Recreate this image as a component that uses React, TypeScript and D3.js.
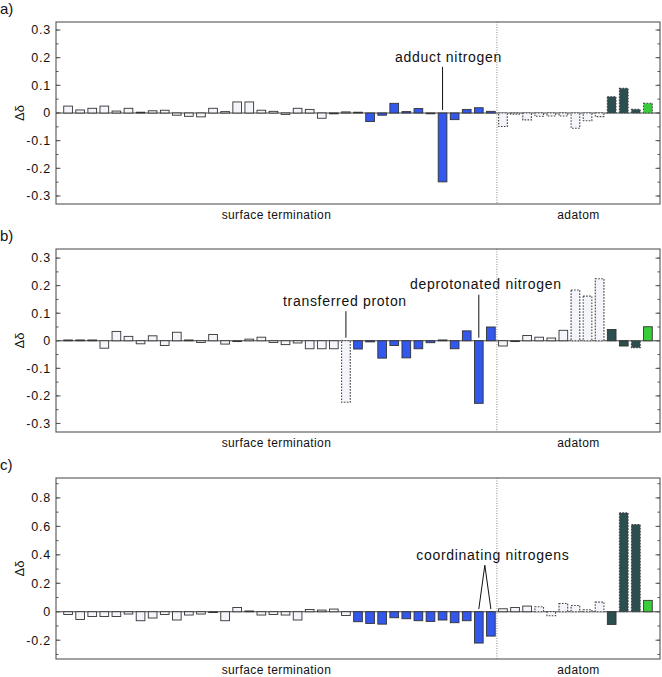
import React from 'react';
import * as d3 from 'd3';

// site kinds: w = surface/adatom white, b = blue, d = dark teal, g = green
const siteKinds: string[] = [
  'w','w','w','w','w','w','w','w','w','w','w','w','w','w','w','w','w','w','w','w','w','w','w','w',
  'b','b','b','b','b','b','b','b','b','b','b','b',
  'w','w','w','w','w','w','w','w','w',
  'd','d','d',
  'g',
];

const valuesA: number[] = [
  0.025, 0.011, 0.017, 0.025, 0.007, 0.017, 0.002, 0.008, 0.01, -0.008, -0.012, -0.014,
  0.017, 0.005, 0.04, 0.04, 0.01, 0.006, -0.005, 0.017, 0.013, -0.019, -0.003, 0.004,
  0, -0.031, -0.008, 0.035, 0.005, 0.016, -0.002, -0.249, -0.024, 0.013, 0.019, 0.006,
  -0.049, -0.004, -0.025, -0.012, -0.011, -0.011, -0.055, -0.028, -0.013,
  0.059, 0.089, 0.013,
  0.035,
];
const valuesB: number[] = [
  0.001, 0.003, 0.001, -0.027, 0.034, 0.016, -0.011, 0.018, -0.017, 0.031, 0.002, -0.006,
  0.023, -0.012, -0.002, 0.006, 0.013, -0.006, -0.014, -0.008, -0.029, -0.029, -0.029, -0.223,
  -0.03, -0.004, -0.063, -0.017, -0.062, -0.029, -0.007, 0.003, -0.029, 0.036, -0.227, 0.05,
  -0.019, -0.002, 0.019, 0.013, 0.01, 0.038, 0.184, 0.162, 0.225,
  0.041, -0.019, -0.025,
  0.051,
];
const valuesC: number[] = [
  -0.019, -0.054, -0.033, -0.033, -0.033, -0.016, -0.063, -0.044, -0.019, -0.058, -0.023, -0.016,
  -0.003, -0.063, 0.03, 0, -0.023, -0.019, -0.023, -0.058, 0.016, 0.012, 0.019, -0.026,
  -0.07, -0.082, -0.087, -0.042, -0.049, -0.063, -0.068, -0.058, -0.077, -0.063, -0.22, -0.171,
  0.021, 0.03, 0.04, 0.035, -0.028, 0.058, 0.044, 0.014, 0.068,
  -0.089, 0.695, 0.613,
  0.08,
];

const dashedA: number[] = [36, 37, 38, 39, 40, 41, 42, 43, 44, 45, 46, 47, 48];
const dashedB: number[] = [23, 42, 43, 44, 47];
const dashedC: number[] = [39, 40, 41, 42, 43, 44, 46, 47];

const ticksAB: number[] = [-0.3, -0.2, -0.1, 0, 0.1, 0.2, 0.3];
const minorAB: number[] = [-0.3, -0.25, -0.2, -0.15, -0.1, -0.05, 0, 0.05, 0.1, 0.15, 0.2, 0.25, 0.3];
const ticksC: number[] = [-0.2, 0, 0.2, 0.4, 0.6, 0.8];
const minorC: number[] = [-0.3, -0.2, -0.1, 0, 0.1, 0.2, 0.3, 0.4, 0.5, 0.6, 0.7, 0.8, 0.9];

const regionLabels: string[] = ['surface termination', 'adatom'];
const panelLabels: string[] = ['a)', 'b)', 'c)'];

const COLORS: Record<string, string> = {
  w: '#f4f5fa',
  b: '#3358ee',
  d: '#2c4e4e',
  g: '#3acc3a',
};

const FONT = "'Liberation Sans', Arial, Helvetica, sans-serif";
const LEFT = 56;
const RIGHT = 660;

interface Annot {
  text: string;
  bars: number[];
  textDx: number;
  textY: number;
  lineTop: number;
  lineBottom: number;
}

interface PanelProps {
  label: string;
  values: number[];
  dashed: number[];
  domain: [number, number];
  ticks: number[];
  minor: number[];
  top: number;
  bottom: number;
  annots: Annot[];
  fmt: (v: number) => string;
}

function Panel({ label, values, dashed, domain, ticks, minor, top, bottom, annots, fmt }: PanelProps) {
  const x = d3.scaleLinear().domain([-1, 49]).range([LEFT, RIGHT]);
  const y = d3.scaleLinear().domain(domain).range([bottom, top]);
  const step = x(1) - x(0);
  const bw = step * 0.72;
  const split = x(35.5);
  const dashSet = new Set(dashed);
  return (
    <g>
      <text x={0} y={top - 8} fontFamily={FONT} fontSize={15} fill="#111">{label}</text>
      <text
        transform={`translate(24,${(top + bottom) / 2}) rotate(-90)`}
        textAnchor="middle"
        fontFamily={FONT}
        fontSize={13}
        fill="#111"
      >Δδ</text>
      {/* zero line */}
      <line x1={LEFT} x2={RIGHT} y1={y(0)} y2={y(0)} stroke="#444" strokeWidth={1} />
      {/* separator */}
      <line x1={split} x2={split} y1={top} y2={bottom} stroke="#888" strokeWidth={1} strokeDasharray="1,1.5" />
      {values.map((v, i) => {
        const y0 = y(Math.max(v, 0));
        const h = Math.max(Math.abs(y(v) - y(0)), 0.8);
        const kind = siteKinds[i];
        const isD = dashSet.has(i);
        return (
          <rect
            key={i}
            x={x(i) - bw / 2}
            y={v >= 0 ? y(0) - h : y(0)}
            width={bw}
            height={h}
            fill={COLORS[kind]}
            stroke={isD ? '#444' : '#333'}
            strokeWidth={isD ? 1.1 : 0.9}
            strokeDasharray={isD ? '1.6,1.4' : undefined}
          />
        );
      })}
      {/* frame */}
      <rect x={LEFT} y={top} width={RIGHT - LEFT} height={bottom - top} fill="none" stroke="#555" strokeWidth={1.1} />
      {minor.map((t, i) => (
        <g key={'m' + i}>
          <line x1={LEFT} x2={LEFT + 2.5} y1={y(t)} y2={y(t)} stroke="#555" strokeWidth={1} />
          <line x1={RIGHT} x2={RIGHT - 2.5} y1={y(t)} y2={y(t)} stroke="#555" strokeWidth={1} />
        </g>
      ))}
      {ticks.map((t, i) => (
        <g key={'t' + i}>
          <line x1={LEFT} x2={LEFT + 4.5} y1={y(t)} y2={y(t)} stroke="#555" strokeWidth={1} />
          <line x1={RIGHT} x2={RIGHT - 4.5} y1={y(t)} y2={y(t)} stroke="#555" strokeWidth={1} />
          <text
            x={51}
            y={y(t)}
            dy="0.35em"
            textAnchor="end"
            fontFamily={FONT}
            fontSize={12.5}
            letterSpacing={0.8}
            fill="#111"
          >{fmt(t)}</text>
        </g>
      ))}
      <text x={(LEFT + split) / 2} y={bottom + 15} textAnchor="middle" fontFamily={FONT} fontSize={12} letterSpacing={0.4} fill="#111">{regionLabels[0]}</text>
      <text x={(split + RIGHT) / 2} y={bottom + 15} textAnchor="middle" fontFamily={FONT} fontSize={12} letterSpacing={0.4} fill="#111">{regionLabels[1]}</text>
      {annots.map((a, k) => {
        const cx = a.bars.length === 1 ? x(a.bars[0]) : (x(a.bars[0]) + x(a.bars[a.bars.length - 1])) / 2;
        return (
          <g key={'a' + k}>
            <text x={cx + a.textDx} y={y(a.textY)} textAnchor="middle" fontFamily={FONT} fontSize={14} letterSpacing={0.7} fill="#111">{a.text}</text>
            {a.bars.map((b, j) => (
              <line key={j} x1={a.bars.length === 1 ? x(b) : cx} x2={x(b)} y1={y(a.lineTop)} y2={y(a.lineBottom)} stroke="#111" strokeWidth={1} />
            ))}
          </g>
        );
      })}
    </g>
  );
}

const fmtAB = (v: number) => (v === 0 ? '0' : d3.format('.1f')(v).replace('−', '-'));
const fmtC = (v: number) => (v === 0 ? '0' : d3.format('.1f')(v).replace('−', '-'));

export default function App() {
  return (
    <svg width={662} height={677} style={{ position: 'absolute', left: 0, top: 0, background: '#fff' }}>
      <rect x={0} y={0} width={662} height={677} fill="#fff" />
      <Panel
        label={panelLabels[0]}
        values={valuesA}
        dashed={dashedA}
        domain={[-0.329, 0.329]}
        ticks={ticksAB}
        minor={minorAB}
        top={22}
        bottom={204}
        fmt={fmtAB}
        annots={[{ text: 'adduct nitrogen', bars: [31], textDx: 6, textY: 0.185, lineTop: 0.167, lineBottom: 0.011 }]}
      />
      <Panel
        label={panelLabels[1]}
        values={valuesB}
        dashed={dashedB}
        domain={[-0.331, 0.333]}
        ticks={ticksAB}
        minor={minorAB}
        top={249}
        bottom={432}
        fmt={fmtAB}
        annots={[
          { text: 'transferred proton', bars: [23], textDx: -1, textY: 0.127, lineTop: 0.107, lineBottom: 0.011 },
          { text: 'deprotonated nitrogen', bars: [34], textDx: 7, textY: 0.188, lineTop: 0.167, lineBottom: 0.011 },
        ]}
      />
      <Panel
        label={panelLabels[2]}
        values={valuesC}
        dashed={dashedC}
        domain={[-0.332, 0.94]}
        ticks={ticksC}
        minor={minorC}
        top={478}
        bottom={659}
        fmt={fmtC}
        annots={[{ text: 'coordinating nitrogens', bars: [34, 35], textDx: 8, textY: 0.363, lineTop: 0.327, lineBottom: 0.019 }]}
      />
    </svg>
  );
}
